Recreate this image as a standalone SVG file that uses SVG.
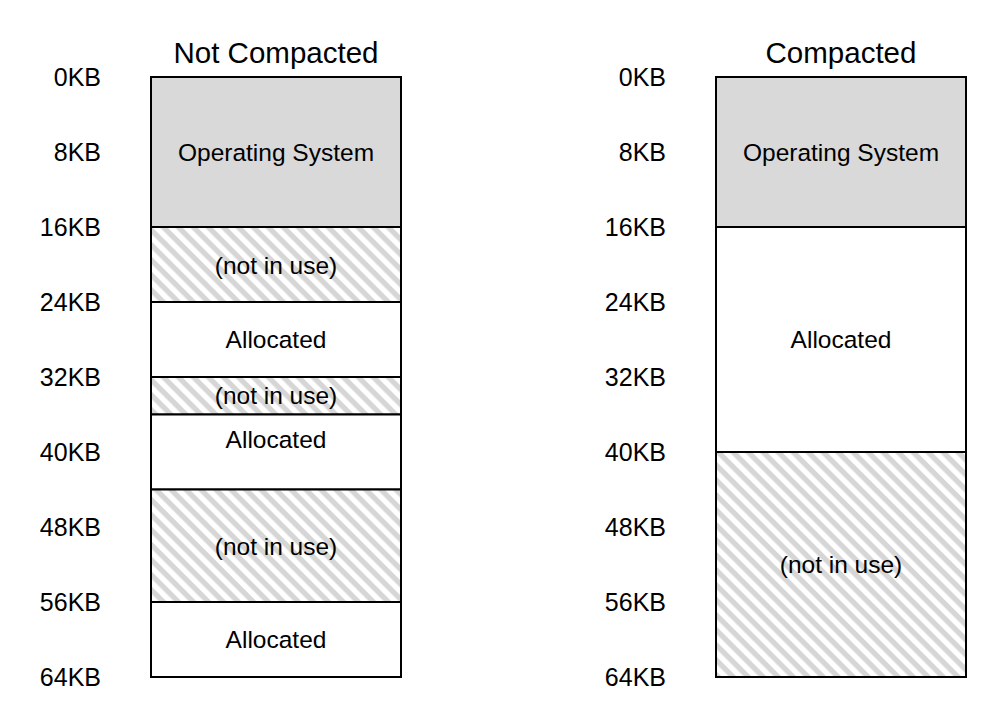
<svg xmlns="http://www.w3.org/2000/svg" width="996" height="718" viewBox="0 0 996 718">
  <defs>
    <pattern id="hatch" patternUnits="userSpaceOnUse" width="10.6" height="10.6" patternTransform="rotate(45)">
      <rect width="10.6" height="10.6" fill="#ffffff"/>
      <rect width="10.6" height="5.3" fill="#d6d6d6"/>
    </pattern>
  </defs>
  <style>
    text { font-family: "Liberation Sans", Arial, sans-serif; fill: #000; }
    .title { font-size: 29.5px; text-anchor: middle; }
    .addr { font-size: 25px; text-anchor: end; }
    .lbl { font-size: 24.5px; text-anchor: middle; }
    .os { fill: #d9d9d9; stroke: #000; stroke-width: 2; }
    .alloc { fill: #ffffff; stroke: #000; stroke-width: 2; }
    .free { fill: url(#hatch); stroke: #000; stroke-width: 2; }
  </style>
  <rect width="996" height="718" fill="#ffffff"/>

  <!-- left column: memory before compaction -->
  <g id="left-title"><text class="title" x="276" y="63">Not Compacted</text></g>
  <g id="left-addresses">
    <text class="addr" x="101" y="85.5">0KB</text>
    <text class="addr" x="101" y="160.5">8KB</text>
    <text class="addr" x="101" y="235.5">16KB</text>
    <text class="addr" x="101" y="310.5">24KB</text>
    <text class="addr" x="101" y="385.5">32KB</text>
    <text class="addr" x="101" y="460.5">40KB</text>
    <text class="addr" x="101" y="535.5">48KB</text>
    <text class="addr" x="101" y="610.5">56KB</text>
    <text class="addr" x="101" y="685.5">64KB</text>
  </g>
  <g id="left-os"><rect class="os" x="151" y="77" width="250" height="150"/><text class="lbl" x="276" y="161">Operating System</text></g>
  <g id="left-free1"><rect class="free" x="151" y="227" width="250" height="75"/><text class="lbl" x="276" y="274">(not in use)</text></g>
  <g id="left-alloc1"><rect class="alloc" x="151" y="302" width="250" height="75"/><text class="lbl" x="276" y="348">Allocated</text></g>
  <g id="left-free2"><rect class="free" x="151" y="377" width="250" height="37.5"/><text class="lbl" x="276" y="404">(not in use)</text></g>
  <g id="left-alloc2"><rect class="alloc" x="151" y="414.5" width="250" height="75"/><text class="lbl" x="276" y="448">Allocated</text></g>
  <g id="left-free3"><rect class="free" x="151" y="489.5" width="250" height="112.5"/><text class="lbl" x="276" y="555">(not in use)</text></g>
  <g id="left-alloc3"><rect class="alloc" x="151" y="602" width="250" height="75"/><text class="lbl" x="276" y="648">Allocated</text></g>

  <!-- right column: memory after compaction -->
  <g id="right-title"><text class="title" x="841" y="63">Compacted</text></g>
  <g id="right-addresses">
    <text class="addr" x="666" y="85.5">0KB</text>
    <text class="addr" x="666" y="160.5">8KB</text>
    <text class="addr" x="666" y="235.5">16KB</text>
    <text class="addr" x="666" y="310.5">24KB</text>
    <text class="addr" x="666" y="385.5">32KB</text>
    <text class="addr" x="666" y="460.5">40KB</text>
    <text class="addr" x="666" y="535.5">48KB</text>
    <text class="addr" x="666" y="610.5">56KB</text>
    <text class="addr" x="666" y="685.5">64KB</text>
  </g>
  <g id="right-os"><rect class="os" x="716" y="77" width="250" height="150"/><text class="lbl" x="841" y="161">Operating System</text></g>
  <g id="right-alloc"><rect class="alloc" x="716" y="227" width="250" height="225"/><text class="lbl" x="841" y="348">Allocated</text></g>
  <g id="right-free"><rect class="free" x="716" y="452" width="250" height="225"/><text class="lbl" x="841" y="573">(not in use)</text></g>

  <g id="connectors"></g>
</svg>
